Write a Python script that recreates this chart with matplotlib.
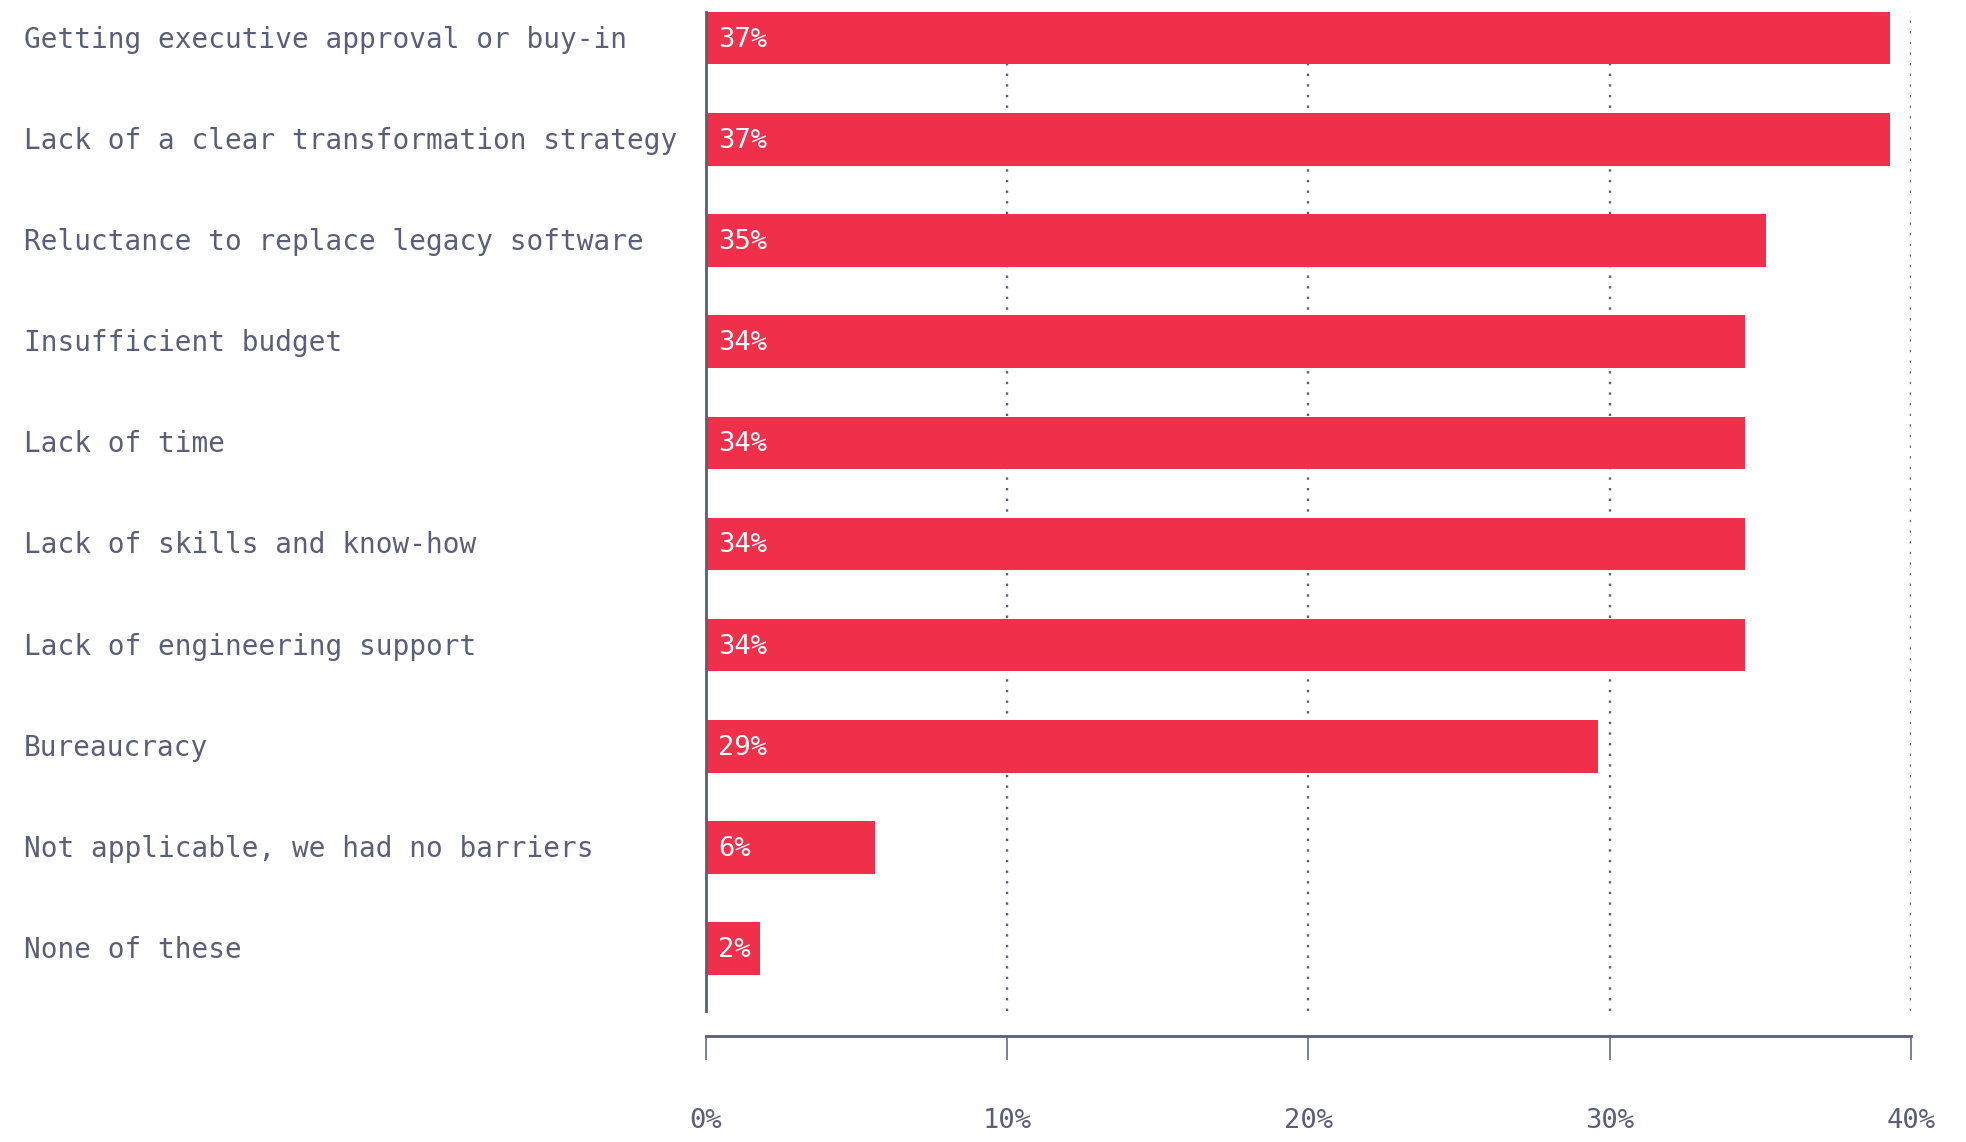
import matplotlib.pyplot as plt
from matplotlib.transforms import blended_transform_factory

# barriers to transformation (share of respondents)
categories = ["Getting executive approval or buy-in",
              "Lack of a clear transformation strategy",
              "Reluctance to replace legacy software",
              "Insufficient budget",
              "Lack of time",
              "Lack of skills and know-how",
              "Lack of engineering support",
              "Bureaucracy",
              "Not applicable, we had no barriers",
              "None of these"]
bar_lengths = [39.3, 39.3, 35.2, 34.5, 34.5, 34.5, 34.5, 29.6, 5.6, 1.8]
value_labels = ["37%", "37%", "35%", "34%", "34%", "34%", "34%", "29%", "6%", "2%"]
xticks = [0, 10, 20, 30, 40]
xtick_labels = ["0%", "10%", "20%", "30%", "40%"]

red = "#f0304a"
slate = "#5a5e78"
mono = ["DejaVu Sans Mono"]

fig = plt.figure(figsize=(19.66, 11.42), dpi=100)
ax = fig.add_axes([0.3591, 0.1147, 0.6129, 0.8748])

# spines first: moving a spine resets the ticks
for s in ["top", "right"]:
    ax.spines[s].set_visible(False)
ax.spines["left"].set_color(slate)
ax.spines["left"].set_linewidth(2)
ax.spines["bottom"].set_position(("outward", 18))
ax.spines["bottom"].set_color(slate)
ax.spines["bottom"].set_linewidth(2)

ypos = list(range(len(categories)))
ax.barh(ypos, bar_lengths, height=0.52, color=red, zorder=2)
ax.set_ylim(9.617, -0.259)
ax.set_xlim(0, 40)

# value labels inside the bars
for y, v, lab in zip(ypos, bar_lengths, value_labels):
    ax.annotate(lab, (0, y), xytext=(9, -1), textcoords="offset points",
                ha="left", va="center", color="white", fontsize=19.5,
                family=mono, zorder=3)

# category labels at the left edge of the figure
trans = blended_transform_factory(fig.transFigure, ax.transData)
for y, c in zip(ypos, categories):
    ax.annotate(c, (24 / 1966, y), xycoords=trans, xytext=(0, -1),
                textcoords="offset points", ha="left", va="center",
                color=slate, fontsize=20, family=mono)

ax.set_yticks([])
ax.tick_params(axis="x", direction="out", length=17, width=1.1, color=slate,
               pad=35, labelsize=19.5, labelcolor=slate)
ax.set_xticks(xticks, labels=xtick_labels, fontfamily="DejaVu Sans Mono")

ax.xaxis.grid(True, linestyle=(0, (1, 3.5)), linewidth=1.7, color=slate)
ax.set_axisbelow(True)

fig.savefig("out.png", dpi=100)
